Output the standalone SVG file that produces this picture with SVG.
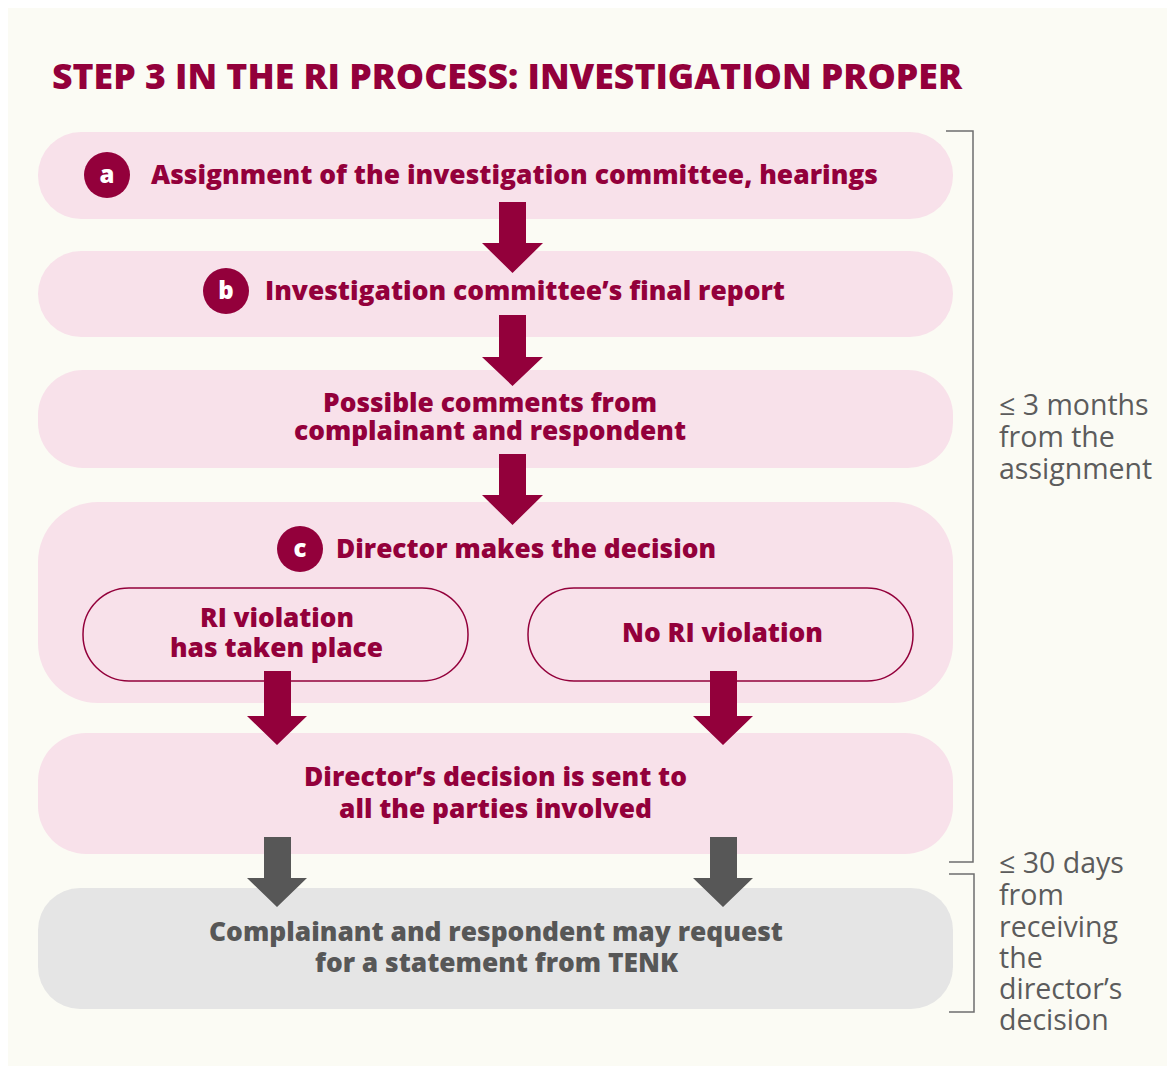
<svg xmlns="http://www.w3.org/2000/svg" width="1167" height="1066" viewBox="0 0 1167 1066">
  <style>
    .bg { fill: #fbfbf4; }
    .pink { fill: #f8e1ea; }
    .grey { fill: #e5e5e5; }
    .inner { fill: none; stroke: #93003b; stroke-width: 1.5; }
    .title { font-family: "Open Sans", "Liberation Sans", sans-serif; font-weight: 800; font-size: 35px; fill: #93003b; }
    .lbl { font-family: "Open Sans", "Liberation Sans", sans-serif; font-weight: 800; font-size: 26px; fill: #93003b; }
    .lblg { font-family: "Open Sans", "Liberation Sans", sans-serif; font-weight: 800; font-size: 26px; fill: #575757; }
    .badge { fill: #93003b; }
    .badget { font-family: "Open Sans", "Liberation Sans", sans-serif; font-weight: 800; font-size: 24px; fill: #ffffff; text-anchor: middle; }
    .arr { fill: #93003b; }
    .arrg { fill: #575757; }
    .brk { fill: none; stroke: #6e6e6e; stroke-width: 1.5; }
    .note { font-family: "Open Sans", "Liberation Sans", sans-serif; font-size: 28.5px; fill: #5c5c5c; }
  </style>
  <rect x="0" y="0" width="1167" height="1066" fill="#ffffff"/>
  <rect class="bg" x="8" y="8" width="1159" height="1058"/>

  <text class="title" x="52" y="89" textLength="910" lengthAdjust="spacingAndGlyphs">STEP 3 IN THE RI PROCESS: INVESTIGATION PROPER</text>

  <g id="node-a">
    <rect class="pink" x="38" y="132" width="915" height="87" rx="43" ry="43"/>
    <circle class="badge" cx="107" cy="175" r="23"/>
    <text class="badget" x="107" y="183">a</text>
    <text class="lbl" x="151" y="184" textLength="727" lengthAdjust="spacingAndGlyphs">Assignment of the investigation committee, hearings</text>
  </g>

  <g id="node-b">
    <rect class="pink" x="38" y="251" width="915" height="86" rx="43" ry="43"/>
    <circle class="badge" cx="226" cy="291" r="23"/>
    <text class="badget" x="226" y="299">b</text>
    <text class="lbl" x="265" y="300" textLength="520" lengthAdjust="spacingAndGlyphs">Investigation committee’s final report</text>
  </g>

  <g id="node-comments">
    <rect class="pink" x="38" y="370" width="915" height="98" rx="45" ry="45"/>
    <text class="lbl" x="323" y="412" textLength="334" lengthAdjust="spacingAndGlyphs">Possible comments from</text>
    <text class="lbl" x="294" y="440" textLength="392" lengthAdjust="spacingAndGlyphs">complainant and respondent</text>
  </g>

  <g id="node-c">
    <rect class="pink" x="38" y="502" width="915" height="201" rx="60" ry="60"/>
    <circle class="badge" cx="300" cy="549" r="23"/>
    <text class="badget" x="300" y="557">c</text>
    <text class="lbl" x="336" y="558" textLength="380" lengthAdjust="spacingAndGlyphs">Director makes the decision</text>
  </g>

  <g id="node-violation">
    <rect class="inner" x="83" y="588" width="385" height="93" rx="46" ry="46"/>
    <text class="lbl" x="200" y="627" textLength="154" lengthAdjust="spacingAndGlyphs">RI violation</text>
    <text class="lbl" x="170" y="657" textLength="213" lengthAdjust="spacingAndGlyphs">has taken place</text>
  </g>

  <g id="node-noviolation">
    <rect class="inner" x="528" y="588" width="385" height="93" rx="46" ry="46"/>
    <text class="lbl" x="622" y="642" textLength="201" lengthAdjust="spacingAndGlyphs">No RI violation</text>
  </g>

  <g id="node-sent">
    <rect class="pink" x="38" y="733" width="915" height="121" rx="48" ry="48"/>
    <text class="lbl" x="304" y="786" textLength="383" lengthAdjust="spacingAndGlyphs">Director’s decision is sent to</text>
    <text class="lbl" x="339" y="818" textLength="313" lengthAdjust="spacingAndGlyphs">all the parties involved</text>
  </g>

  <g id="node-tenk">
    <rect class="grey" x="38" y="888" width="915" height="121" rx="42" ry="42"/>
    <text class="lblg" x="209" y="941" textLength="574" lengthAdjust="spacingAndGlyphs">Complainant and respondent may request</text>
    <text class="lblg" x="315" y="972" textLength="363" lengthAdjust="spacingAndGlyphs">for a statement from TENK</text>
  </g>

  <g id="connectors">
    <polygon class="arr" points="499,202 526,202 526,243 543,243 512.5,273 482,243 499,243"/>
    <polygon class="arr" points="499,315 526,315 526,357 543,357 512.5,386 482,357 499,357"/>
    <polygon class="arr" points="499,454 526,454 526,495 543,495 512.5,525 482,495 499,495"/>
    <polygon class="arr" points="264,671 291,671 291,716 307,716 277,745 247,716 264,716"/>
    <polygon class="arr" points="710,671 737,671 737,716 753,716 723,745 693,716 710,716"/>
    <polygon class="arrg" points="264,837 291,837 291,878 307,878 277,907 247,878 264,878"/>
    <polygon class="arrg" points="710,837 737,837 737,878 753,878 723,907 693,878 710,878"/>
  </g>

  <g id="timing-investigation">
    <polyline class="brk" points="946,131 973,131 973,862 949,862"/>
    <text class="note" x="999" y="415">≤ 3 months</text>
    <text class="note" x="999" y="447">from the</text>
    <text class="note" x="999" y="479">assignment</text>
  </g>

  <g id="timing-statement">
    <polyline class="brk" points="949,874 974,874 974,1012 949,1012"/>
    <text class="note" x="999" y="873">≤ 30 days</text>
    <text class="note" x="999" y="905">from</text>
    <text class="note" x="999" y="937">receiving</text>
    <text class="note" x="999" y="968">the</text>
    <text class="note" x="999" y="999">director’s</text>
    <text class="note" x="999" y="1030">decision</text>
  </g>
</svg>
